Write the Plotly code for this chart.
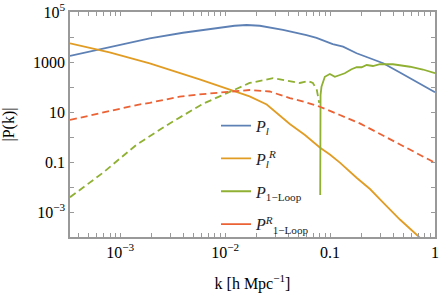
import math
import plotly.graph_objects as go

# ---------------- data ----------------
k_lin = [3.32e-4, 7.91e-4, 1.91e-3, 3.96e-3, 8.24e-3, 0.0123, 0.0160, 0.0214, 0.0356,
         0.0515, 0.0596, 0.0743, 0.0891, 0.106, 0.133, 0.155, 0.179, 0.240, 0.321,
         0.463, 0.668, 1.0]
P_lin = [1740, 3800, 8900, 14800, 23400, 28200, 30200, 28200, 19100,
         14100, 12000, 9300, 7100, 5200, 4100, 2950, 2240, 1410, 890,
         380, 158, 62]

k_linR = [3.32e-4, 7.91e-4, 1.91e-3, 3.68e-3, 5.71e-3, 0.0118, 0.0171, 0.0249, 0.0413,
          0.0576, 0.0798, 0.0995, 0.124, 0.180, 0.240, 0.319, 0.463, 0.689, 1.0]
P_linR = [5600, 2400, 890, 372, 200, 71, 42, 20, 3.3,
          1.2, 0.38, 0.20, 0.095, 0.023, 0.0083, 0.0024, 5.0e-4, 1.1e-4, 2.5e-5]

# signed values: negative part is drawn dashed
k_1loop = [3.32e-4, 6.78e-4, 1.42e-3, 2.96e-3, 6.11e-3, 0.0110, 0.0171, 0.0286, 0.0413,
           0.0515, 0.0614, 0.0686, 0.0748, 0.0787,
           0.0805, 0.0811, 0.0828, 0.0891, 0.0995, 0.111, 0.124, 0.138, 0.160, 0.179,
           0.200, 0.223, 0.256, 0.299, 0.397, 0.577, 0.767, 1.0]
P_1loop = [-0.0039, -0.036, -0.48, -3.5, -21, -65, -145, -224, -166,
           -145, -174, -145, -76, -23,
           0.0048, 48, 102, 257, 331, 257, 302, 355, 513, 617,
           617, 759, 692, 813, 813, 646, 501, 355]

k_1loopR = [3.32e-4, 6.78e-4, 1.43e-3, 1.91e-3, 3.68e-3, 6.11e-3, 0.0138, 0.0171, 0.0266,
            0.0413, 0.0576, 0.0798, 0.124, 0.192, 0.319, 0.577, 1.0]
P_1loopR = [-4.8, -9.5, -19, -23.4, -41, -52, -74, -76, -66,
            -36, -25, -16.2, -7.6, -3.5, -1.15, -0.32, -0.093]

names = ["<i>P</i><sub><i>l</i></sub>",
         "<i>P</i><sub><i>l</i></sub><sup><i>R</i></sup>",
         "<i>P</i><sub>1−Loop</sub>",
         "<i>P</i><sup><i>R</i></sup><sub>1−Loop</sub>"]
colors = ["#5E81B5", "#E19C24", "#8FB032", "#EB6235"]

x_ticks = [1e-3, 1e-2, 0.1, 1]
x_ticktext = ["10<sup>−3</sup>", "10<sup>−2</sup>", "0.1", "1"]
y_ticks = [1e-3, 0.1, 10, 1000, 1e5]
y_ticktext = ["10<sup>−3</sup>", "0.1", "10", "1000", "10<sup>5</sup>"]

FONT = "Liberation Serif"
LW = 1.8
DASH = "7px,4px"
AX = "#999999"


def segments(k, p):
    """split signed series into runs of constant sign"""
    segs = []
    cur_k, cur_p, cur_s = [], [], None
    for kk, pp in zip(k, p):
        s = pp < 0
        if cur_s is None or s == cur_s:
            cur_k.append(kk); cur_p.append(abs(pp))
        else:
            segs.append((cur_s, cur_k, cur_p))
            cur_k, cur_p = [kk], [abs(pp)]
        cur_s = s
    segs.append((cur_s, cur_k, cur_p))
    return segs


fig = go.Figure()

series = [(k_lin, P_lin), (k_linR, P_linR), (k_1loop, P_1loop), (k_1loopR, P_1loopR)]
for (k, p), c in zip(series, colors):
    for neg, kk, pp in segments(k, p):
        fig.add_trace(go.Scatter(x=kk, y=pp, mode="lines", showlegend=False,
                                 line=dict(color=c, width=LW, dash=DASH if neg else "solid")))

for i, (n, c) in enumerate(zip(names, colors)):
    fig.add_trace(go.Scatter(x=[None], y=[None], mode="lines", name=n,
                             legendgroup=f"g{i}",
                             line=dict(color=c, width=LW)))

# labelled ticks plus unlabelled intermediate ticks
x_minor = [m * 10 ** d for d in range(-4, 0) for m in range(2, 10) if 3.32e-4 <= m * 10 ** d <= 1]
y_minor = [1e-4, 0.01, 1, 100, 1e4]
x_all = x_ticks + x_minor
x_all_text = x_ticktext + [""] * len(x_minor)
y_all = y_ticks + y_minor
y_all_text = y_ticktext + [""] * len(y_minor)

fig.update_xaxes(type="log", range=[math.log10(3.32e-4), 0],
                 tickmode="array", tickvals=x_all, ticktext=x_all_text,
                 ticks="inside", ticklen=4, tickcolor=AX, tickwidth=1,
                 showline=True, linecolor=AX, linewidth=1.5, mirror="ticks",
                 showgrid=False, zeroline=False,
                 tickfont=dict(family=FONT, size=16, color="black"),
                 title=dict(text="k [h Mpc<sup>−1</sup>]",
                            font=dict(family=FONT, size=16, color="black"), standoff=18))
fig.update_yaxes(type="log", range=[-4, 5],
                 tickmode="array", tickvals=y_all, ticktext=y_all_text,
                 ticks="inside", ticklen=4, tickcolor=AX, tickwidth=1,
                 showline=True, linecolor=AX, linewidth=1.5, mirror="ticks",
                 showgrid=False, zeroline=False,
                 tickfont=dict(family=FONT, size=16, color="black"),
                 title=dict(text="|P(k)|",
                            font=dict(family=FONT, size=16, color="black"), standoff=15))

fig.update_layout(width=441, height=298, autosize=False,
                  margin=dict(l=70, r=6, t=12, b=61, autoexpand=False),
                  paper_bgcolor="white", plot_bgcolor="white",
                  font=dict(family=FONT, size=16, color="black"),
                  legend=dict(x=0.40, y=0.57, xanchor="left", yanchor="top",
                              bgcolor="rgba(0,0,0,0)", borderwidth=0,
                              tracegroupgap=9, itemwidth=30,
                              font=dict(family=FONT, size=16, color="#222")))

fig.write_html("out.html", config={"displayModeBar": False},
               post_script="document.body.style.margin='0px';document.body.style.padding='0px';")
